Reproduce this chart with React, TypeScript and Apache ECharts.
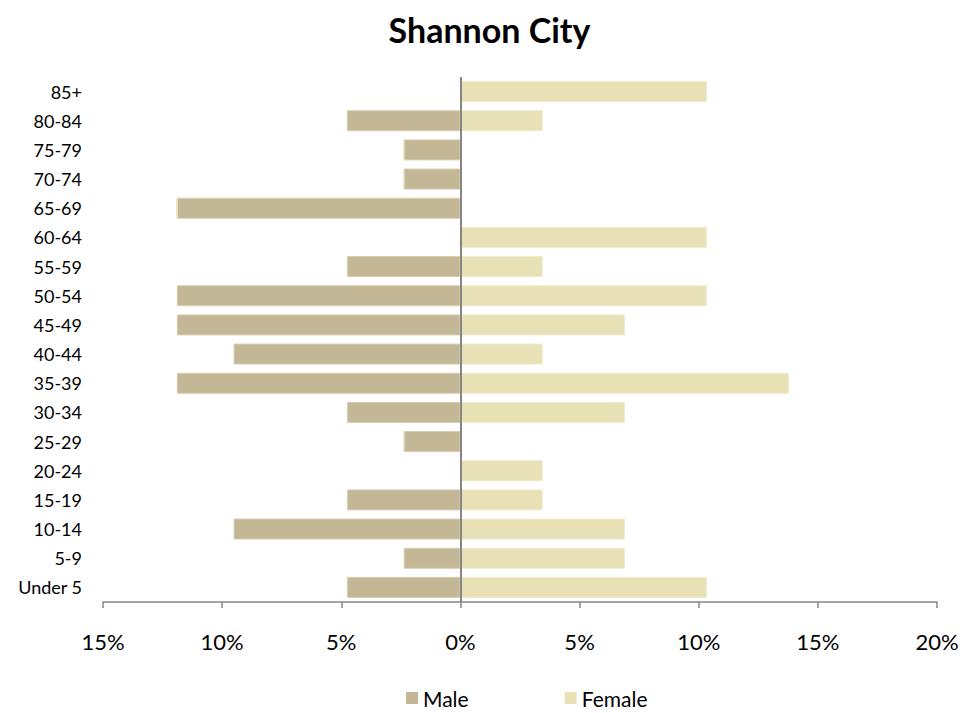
import React, { useEffect, useRef } from "react";
import * as echarts from "echarts";

const categories = [
  "Under 5", "5-9", "10-14", "15-19", "20-24", "25-29", "30-34", "35-39", "40-44",
  "45-49", "50-54", "55-59", "60-64", "65-69", "70-74", "75-79", "80-84", "85+",
];
const maleValues = [4.76, 2.38, 9.52, 4.76, 0, 2.38, 4.76, 11.9, 9.52, 11.9, 11.9, 4.76, 0, 11.9, 2.38, 2.38, 4.76, 0];
const femaleValues = [10.34, 6.9, 6.9, 3.45, 3.45, 0, 6.9, 13.79, 3.45, 6.9, 10.34, 3.45, 10.34, 0, 0, 0, 3.45, 10.34];
const xMin = -15;
const xMax = 20;
const xStep = 5;

const FONT = "Lato, 'Open Sans', sans-serif";

export default function App() {
  const ref = useRef<HTMLDivElement>(null);
  useEffect(() => {
    document.body.style.margin = "0";
    if (!ref.current) return;
    const chart = echarts.init(ref.current, undefined, { renderer: "svg" });
    chart.setOption({
      animation: false,
      backgroundColor: "#ffffff",
      title: {
        text: "Shannon City",
        left: "center",
        top: 7,
        textStyle: { fontFamily: FONT, fontSize: 34, fontWeight: "bold", color: "#000" },
      },
      legend: {
        top: 686,
        left: 406,
        padding: 0,
        icon: "rect",
        itemWidth: 12,
        itemHeight: 12,
        itemGap: 96,
        itemStyle: { borderWidth: 0 },
        textStyle: { fontFamily: FONT, fontSize: 21, lineHeight: 24, color: "#000" },
        data: ["Male", "Female"],
      },
      grid: { left: 103, right: 42, top: 77, bottom: 111, containLabel: false },
      xAxis: {
        type: "value",
        min: xMin,
        max: xMax,
        interval: xStep,
        splitLine: { show: false },
        axisLine: { show: true, lineStyle: { color: "#868686", width: 1.5 } },
        axisTick: { show: true, length: 6, lineStyle: { color: "#868686", width: 1.5 } },
        axisLabel: {
          margin: 28,
          fontFamily: FONT,
          fontSize: 22,
          color: "#000",
          formatter: (v: number) => Math.abs(v) + "%",
        },
      },
      yAxis: {
        type: "category",
        data: categories,
        axisLine: { show: false },
        axisTick: { show: false },
        axisLabel: { margin: 21, fontFamily: FONT, fontSize: 18, color: "#000" },
      },
      series: [
        {
          name: "Male",
          type: "bar",
          stack: "pop",
          barWidth: 21,
          data: maleValues.map((v) => -v),
          itemStyle: { color: "#C4B795", borderColor: "#D6CDB2", borderWidth: 1 },
          markLine: {
            silent: true,
            symbol: "none",
            label: { show: false },
            lineStyle: { color: "#868686", width: 2, type: "solid" },
            data: [{ xAxis: 0 }],
          },
        },
        {
          name: "Female",
          type: "bar",
          stack: "pop",
          barWidth: 21,
          data: femaleValues,
          itemStyle: { color: "#E8E1B6", borderColor: "#EFEACB", borderWidth: 1 },
        },
      ],
    });
    return () => chart.dispose();
  }, []);
  return <div ref={ref} style={{ width: 979, height: 713 }} />;
}
